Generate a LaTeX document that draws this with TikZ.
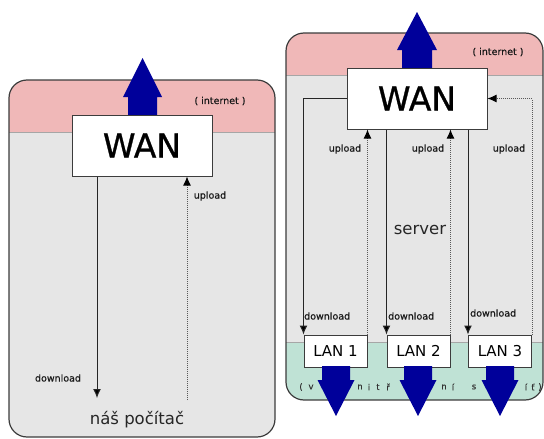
\documentclass[tikz,border=0pt]{standalone}
\usepackage{fontspec}
\setmainfont{DejaVu Sans}
\newfontfamily\medfont[FakeBold=0.9]{DejaVu Sans}
\newfontfamily\lblfont[FakeBold=0.5]{DejaVu Sans}
\usetikzlibrary{arrows.meta}
\definecolor{pinkband}{HTML}{F0B8B8}
\definecolor{grayband}{HTML}{E6E6E6}
\definecolor{greenband}{HTML}{BFE2D5}
\definecolor{bluearrow}{HTML}{00009A}
\definecolor{frame}{HTML}{3C3C3C}
\begin{document}
\begin{tikzpicture}[x=1pt,y=-1pt,
  panel/.style={draw=frame,line width=1.2pt,rounded corners=18pt},
  sep/.style={draw=black!35,line width=0.6pt},
  wanbox/.style={draw=frame,fill=white,line width=1pt,minimum width=140pt,minimum height=61pt,inner sep=0pt,font=\medfont\fontsize{33}{33}\selectfont},
  lanbox/.style={draw=frame,fill=white,line width=1pt,minimum width=63pt,minimum height=32pt,inner sep=0pt,font=\fontsize{15}{15}\selectfont},
  small/.style={font=\lblfont\fontsize{9.5}{10}\selectfont,text=black!90,inner sep=0pt},
  inet/.style={font=\lblfont\fontsize{9.5}{10}\selectfont,text=black!90,inner sep=0pt},
  big/.style={font=\fontsize{16.5}{17}\selectfont,text=black!85,inner sep=0pt},
  letter/.style={font=\lblfont\fontsize{8.5}{8.5}\selectfont,text=black!80,inner sep=0pt},
  dlline/.style={draw=black!85,line width=1pt,-{Latex[length=9pt,width=8pt,fill=black]}},
  ulline/.style={draw=black!65,line width=1pt,densely dotted,-{Latex[length=9pt,width=8pt,fill=black,color=black]}},
  bigarrow/.style={fill=bluearrow,draw=none}
]
\useasboundingbox (0,0) rectangle (544,439);

% ---------- left panel ----------
\fill[grayband,rounded corners=18pt] (9,80) rectangle (275,437);
\begin{scope}
  \clip[rounded corners=18pt] (9,80) rectangle (275,437);
  \fill[pinkband] (9,80) rectangle (275,132);
\end{scope}
\draw[sep] (9,132) -- (275,132);
\draw[panel] (9,80) rectangle (275,437);

\fill[bigarrow] (128,116) -- (128,97) -- (123,97) -- (142.5,58) -- (162,97) -- (157,97) -- (157,116) -- cycle;
\node[inet] (inetL) at (220,101) {( internet )};
\node[wanbox] (wanL) at (142,145.5) {WAN};

\coordinate (dlL) at (97,398);
\coordinate (ulL) at (187,400);
\draw[dlline] (wanL.south -| dlL) -- (dlL);
\draw[ulline] (ulL) -- (ulL |- wanL.south);
\node[small] (dlLabL) at (58,378) {download};
\node[small] (ulLabL) at (210,196) {upload};
\node[big] (pc) at (137,420) {náš počítač};

% ---------- right panel ----------
\fill[grayband,rounded corners=18pt] (286,33) rectangle (543,400);
\begin{scope}
  \clip[rounded corners=18pt] (286,33) rectangle (543,400);
  \fill[pinkband] (286,33) rectangle (543,75);
  \fill[greenband] (286,342) rectangle (543,400);
\end{scope}
\draw[sep] (286,75) -- (543,75);
\draw[sep] (286,342) -- (543,342);
\draw[panel] (286,33) rectangle (543,400);

\fill[bigarrow] (402,69) -- (402,50) -- (397,50) -- (417,12) -- (437,50) -- (432,50) -- (432,69) -- cycle;
\node[inet] (inetR) at (498,52) {( internet )};
\node[wanbox] (wanR) at (417,98.5) {WAN};

\node[lanbox] (lan1) at (335.5,351) {LAN 1};
\node[lanbox] (lan2) at (418.5,351) {LAN 2};
\node[lanbox] (lan3) at (500,351) {LAN 3};

% bottom letters of "(vnitřní síť)"
\node[letter] (b1) at (301,387) {(};
\node[letter] (b2) at (311,387) {v};
\node[letter] (b3) at (360,387) {n};
\node[letter] (b4) at (369,387) {i};
\node[letter] (b5) at (378,387) {t};
\node[letter] (b6) at (388,387) {ř};
\node[letter] (b7) at (444,387) {n};
\node[letter] (b8) at (453,387) {í};
\node[letter] (b9) at (474,387) {s};
\node[letter] (b10) at (526,387) {í};
\node[letter] (b11) at (533,387) {ť};
\node[letter] (b12) at (540,387) {)};

\foreach \cx in {336,418,500}{
  \fill[bigarrow] (\cx-14,366) -- (\cx-14,380) -- (\cx-18.5,380) -- (\cx,416) -- (\cx+18.5,380) -- (\cx+14,380) -- (\cx+14,366) -- cycle;
}

% connectors
\draw[dlline] (wanR.west) -| (lan1.north west);
\draw[dlline] (wanR.south -| lan2.north west) -- (lan2.north west);
\draw[dlline] (wanR.south -| lan3.north west) -- (lan3.north west);
\draw[ulline] (lan1.north east) -- (lan1.north east |- wanR.south);
\draw[ulline] (lan2.north east) -- (lan2.north east |- wanR.south);
\draw[ulline] (lan3.north east) |- (wanR.east);

\node[small] (ul1) at (345,149) {upload};
\node[small] (ul2) at (428,149) {upload};
\node[small] (ul3) at (509,149) {upload};
\node[small,anchor=west] (dl1) at (304,316) {download};
\node[small,anchor=west] (dl2) at (388,316) {download};
\node[small,anchor=west] (dl3) at (470,313) {download};
\node[big] (srv) at (420,230) {server};
\end{tikzpicture}
\end{document}
